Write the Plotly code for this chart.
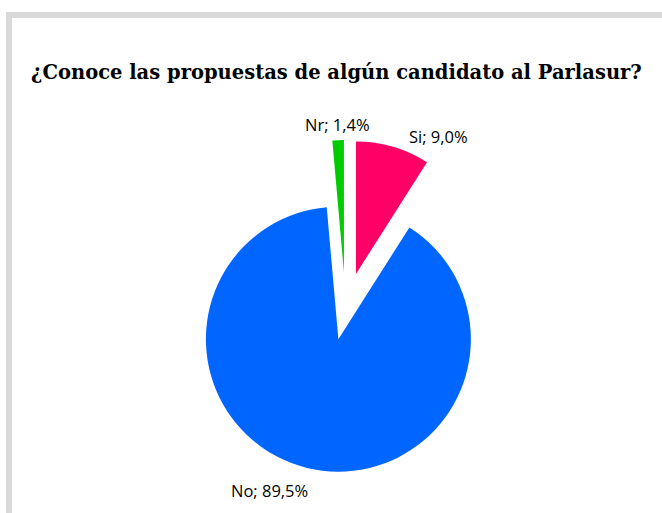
import plotly.graph_objects as go

labels = ["Si", "No", "Nr"]
values = [9.0, 89.5, 1.4]
colors = ["#FF0066", "#0066FF", "#00CC00"]
title_text = "¿Conoce las propuestas de algún candidato al Parlasur?"

W, H = 662, 513

fig = go.Figure(go.Pie(
    labels=labels,
    values=values,
    sort=False,
    direction="clockwise",
    rotation=0,
    marker=dict(colors=colors, line=dict(width=0)),
    pull=[0.28, 0.23, 0.28],
    textinfo="none",
    hoverinfo="skip",
    showlegend=False,
    domain=dict(x=[0.2659, 0.7782], y=[0.0659, 0.7271]),
))

# label positions (pixel coords converted to paper)
label_pos = {"Si": (438, 136), "No": (269, 490), "Nr": (337.5, 124)}
for lab, val in zip(labels, values):
    px, py = label_pos[lab]
    txt = f"{lab}; {val:.1f}%".replace(".", ",")
    fig.add_annotation(
        x=px / W, y=1 - py / H, xref="paper", yref="paper",
        text=txt, showarrow=False, xanchor="center", yanchor="middle",
        font=dict(family="Open Sans", size=16.5, color="#000000"),
    )

fig.add_annotation(
    x=336.5 / W, y=1 - 72 / H, xref="paper", yref="paper",
    text=f"<b>{title_text}</b>", showarrow=False, xanchor="center", yanchor="middle",
    font=dict(family="DejaVu Serif", size=19.5, color="#000000"),
)

# gray frame (top and left edges visible)
fig.add_shape(type="rect", xref="paper", yref="paper",
              x0=6 / W, x1=1, y0=1 - 18 / H, y1=1 - 12 / H,
              line=dict(width=0), fillcolor="#D9D9D9", layer="below")
fig.add_shape(type="rect", xref="paper", yref="paper",
              x0=6 / W, x1=12 / W, y0=0, y1=1 - 12 / H,
              line=dict(width=0), fillcolor="#D9D9D9", layer="below")

fig.update_layout(
    width=W, height=H,
    margin=dict(l=0, r=0, t=0, b=0),
    paper_bgcolor="white",
    plot_bgcolor="white",
)

fig.write_html(
    "out.html",
    config={"displayModeBar": False},
    post_script="document.body.style.margin='0';document.body.style.overflow='hidden';",
)
